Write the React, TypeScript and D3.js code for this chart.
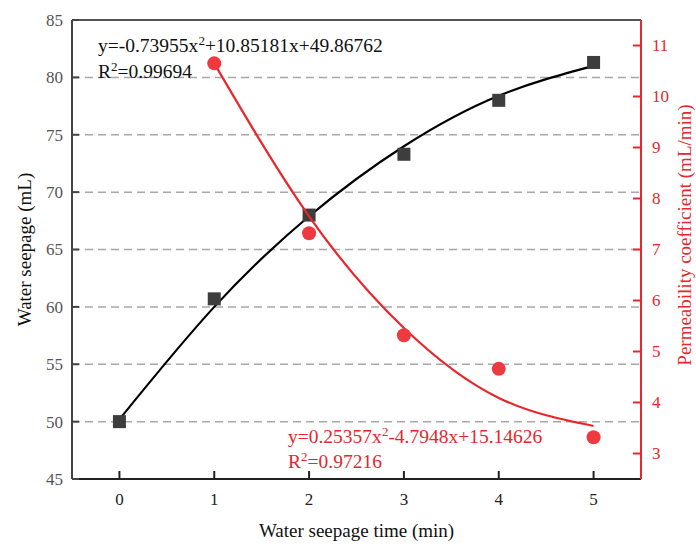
import React from "react";
import * as d3 from "d3";

const timeX = [0, 1, 2, 3, 4, 5];
const seepage = [50.0, 60.7, 68.0, 73.3, 78.0, 81.3];
const seepageFit = [50.2, 60.0, 67.9, 74.0, 78.4, 81.0];
const permX = [1, 2, 3, 4, 5];
const permeability = [10.65, 7.32, 5.32, 4.66, 3.32];
const permFit = [10.65, 7.65, 5.46, 4.09, 3.54];
const leftTicks = [45, 50, 55, 60, 65, 70, 75, 80, 85];
const gridTicks = [50, 55, 60, 65, 70, 75, 80];
const rightTicks = [3, 4, 5, 6, 7, 8, 9, 10, 11];

const W = 696, H = 544;
const L = 72, R = 641, T = 20, B = 479;
const RED = "#e8262b";
const FONT = "'Liberation Serif', 'Times New Roman', serif";

export default function App() {
  const x = d3.scaleLinear().domain([-0.5, 5.5]).range([L, R]);
  const yL = d3.scaleLinear().domain([45, 85]).range([B, T]);
  const yR = d3.scaleLinear().domain([2.5, 11.5]).range([B, T]);

  const blackLine = d3
    .line<number>()
    .x((_, i) => x(timeX[i]))
    .y((d) => yL(d))
    .curve(d3.curveNatural)(seepageFit) as string;
  const redLine = d3
    .line<number>()
    .x((_, i) => x(permX[i]))
    .y((d) => yR(d))
    .curve(d3.curveNatural)(permFit) as string;

  return (
    <svg width={W} height={H} style={{ position: "absolute", left: 0, top: 0, background: "#fff" }} fontFamily={FONT}>
      {gridTicks.map((t) => (
        <line key={"g" + t} x1={L} x2={R} y1={yL(t)} y2={yL(t)} stroke="#a8a8a8" strokeWidth={1.5} strokeDasharray="8,5" />
      ))}
      <line x1={L} x2={R} y1={T} y2={T} stroke="#555" strokeWidth={2} />
      <line x1={L} x2={L} y1={T} y2={B} stroke="#444" strokeWidth={2} />
      <line x1={L} x2={R} y1={B} y2={B} stroke="#222" strokeWidth={2} />
      <line x1={R} x2={R} y1={T} y2={B} stroke={RED} strokeWidth={2} />
      {leftTicks.map((t) => (
        <g key={"l" + t}>
          <line x1={L} x2={L + 7} y1={yL(t)} y2={yL(t)} stroke="#444" strokeWidth={2} />
          <text x={L - 9} y={yL(t)} dy="0.35em" textAnchor="end" fontSize={17} fill="#555">{t}</text>
        </g>
      ))}
      {timeX.map((t) => (
        <g key={"x" + t}>
          <line x1={x(t)} x2={x(t)} y1={B} y2={B - 8} stroke="#222" strokeWidth={2} />
          <text x={x(t)} y={B + 20} dy="0.35em" textAnchor="middle" fontSize={17} fill="#222">{t}</text>
        </g>
      ))}
      {rightTicks.map((t) => (
        <g key={"r" + t}>
          <line x1={R} x2={R - 8} y1={yR(t)} y2={yR(t)} stroke={RED} strokeWidth={2} />
          <text x={R + 11} y={yR(t)} dy="0.35em" textAnchor="start" fontSize={17} fill={RED}>{t}</text>
        </g>
      ))}
      <path d={blackLine} fill="none" stroke="#000" strokeWidth={2.2} />
      {seepage.map((v, i) => (
        <rect key={"s" + i} x={x(timeX[i]) - 6.5} y={yL(v) - 6.5} width={13} height={13} fill="#3d3d3d" />
      ))}
      <path d={redLine} fill="none" stroke={RED} strokeWidth={2.2} />
      {permeability.map((v, i) => (
        <circle key={"c" + i} cx={x(permX[i])} cy={yR(v)} r={7} fill="#ee3a3f" />
      ))}
      <text x={98} y={52} fontSize={19.5} fill="#111">
        y=-0.73955x<tspan dy={-7} fontSize={13}>2</tspan><tspan dy={7}>+10.85181x+49.86762</tspan>
      </text>
      <text x={98} y={78} fontSize={19.5} fill="#111">
        R<tspan dy={-7} fontSize={13}>2</tspan><tspan dy={7}>=0.99694</tspan>
      </text>
      <text x={288} y={443} fontSize={19.5} fill={RED}>
        y=0.25357x<tspan dy={-7} fontSize={13}>2</tspan><tspan dy={7}>-4.7948x+15.14626</tspan>
      </text>
      <text x={288} y={468} fontSize={19.5} fill={RED}>
        R<tspan dy={-7} fontSize={13}>2</tspan><tspan dy={7}>=0.97216</tspan>
      </text>
      <text transform={`translate(24,${(T + B) / 2}) rotate(-90)`} textAnchor="middle" dy="0.35em" fontSize={19} fill="#111">
        Water seepage (mL)
      </text>
      <text transform={`translate(684,235) rotate(-90)`} textAnchor="middle" dy="0.35em" fontSize={19} fill={RED}>
        Permeability coefficient (mL/min)
      </text>
      <text x={(L + R) / 2} y={530} textAnchor="middle" dy="0.35em" fontSize={19} fill="#111">
        Water seepage time (min)
      </text>
    </svg>
  );
}
